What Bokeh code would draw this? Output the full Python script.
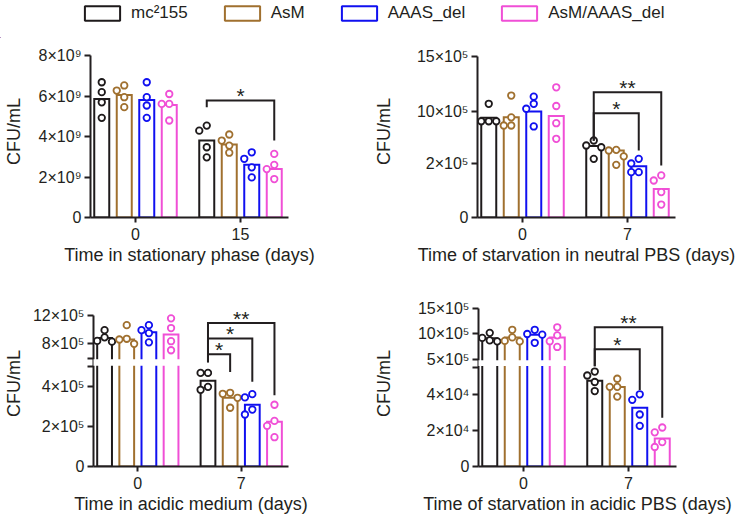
import numpy as np
from bokeh.plotting import figure
from bokeh.models import FixedTicker, BoxAnnotation, Legend, LegendItem, Range1d
from bokeh.layouts import column, row
from bokeh.embed import file_html
from bokeh.resources import INLINE
from bokeh.core.properties import value

# ---------------- data ----------------
SERIES = ["mc²155", "AsM", "AAAS_del", "AsM/AAAS_del"]
COLORS = ["#1e1a1b", "#a0702f", "#1010f0", "#f04fd6"]
INK = "#231f20"
FONT = "Liberation Sans"
YLABEL = "CFU/mL"

# Panel A - stationary phase
A_GROUPS = ["0", "15"]
A_XLABEL = "Time in stationary phase (days)"
A_MEAN_0 = [5.85e9, 6.05e9, 5.8e9, 5.55e9]
A_MEAN_1 = [3.8e9, 3.6e9, 2.6e9, 2.4e9]
A_PTS_0 = [[6.68e9, 6.19e9, 5.69e9, 4.92e9], [6.52e9, 6.27e9, 5.94e9, 5.45e9],
           [6.68e9, 5.94e9, 5.53e9, 4.92e9], [6.10e9, 5.61e9, 5.61e9, 4.79e9]]
A_PTS_1 = [[4.54e9, 4.29e9, 3.47e9, 2.97e9], [4.1e9, 3.8e9, 3.55e9, 3.2e9],
           [3.22e9, 2.9e9, 2.48e9, 1.98e9], [3.14e9, 2.6e9, 2.39e9, 1.9e9]]
A_TICKS = [0, 2e9, 4e9, 6e9, 8e9]
A_TICK_LABELS = ["0", "2×10⁹", "4×10⁹", "6×10⁹", "8×10⁹"]
A_BRACKETS = [(1, 3, 5.78e9, 3.8e9, "*")]
A_BRACKET_FOOT = 5.45e9

# Panel B - neutral PBS
B_GROUPS = ["0", "7"]
B_XLABEL = "Time of starvation in neutral PBS (days)"
B_MEAN_0 = [9.05e5, 9.1e5, 10.0e5, 9.3e5]
B_MEAN_1 = [4.7e5, 4.0e5, 1.9e5, 1.06e5]
B_PTS_0 = [[10.7e5, 8.5e5, 8.5e5, 8.5e5], [11.45e5, 9.1e5, 7.85e5, 7.85e5],
           [11.35e5, 10.7e5, 10.25e5, 7.7e5], [12.2e5, 10.5e5, 8.2e5, 5.8e5]]
B_PTS_1 = [[5.54e5, 4.77e5, 4.5e5, 2.72e5], [4.1e5, 4.0e5, 3.1e5, 1.95e5],
           [2.72e5, 2.0e5, 1.68e5, 1.68e5], [1.56e5, 1.37e5, 0.94e5, 0.48e5]]
B_TICKS = [0, 2e5, 10e5, 15e5]
B_TICK_LABELS = ["0", "2×10⁵", "10×10⁵", "15×10⁵"]
B_BRACKETS = [(1, 2, 9.74e5, 4.0e5, "*"), (1, 3, 11.75e5, 1.93e5, "**")]
B_BRACKET_FOOT = 5.5e5

# Panel C - acidic medium
C_GROUPS = ["0", "7"]
C_XLABEL = "Time in acidic medium (days)"
C_MEAN_0 = [8.8e5, 8.6e5, 9.6e5, 9.3e5]
C_MEAN_1 = [4.3e5, 3.45e5, 3.1e5, 2.25e5]
C_PTS_0 = [[9.9e5, 8.9e5, 8.4e5, 8.3e5], [10.6e5, 8.7e5, 8.6e5, 8.0e5],
           [10.6e5, 9.9e5, 9.5e5, 8.2e5], [11.55e5, 10.2e5, 8.36e5, 7.1e5]]
C_PTS_1 = [[4.7e5, 4.7e5, 4.0e5, 3.85e5], [3.7e5, 3.65e5, 3.45e5, 2.95e5],
           [3.63e5, 3.47e5, 2.86e5, 2.61e5], [3.1e5, 2.29e5, 2.04e5, 1.47e5]]
C_TICKS = [0, 2e5, 4e5, 5e5, 6e5, 8e5, 12e5]
C_TICK_LABELS = ["0", "2×10⁵", "4×10⁵", "", "", "8×10⁵", "12×10⁵"]
C_BRACKETS = [(1, 1, 6.55e5, 4.75e5, "*"), (1, 2, 8.73e5, 4.26e5, "*"),
              (1, 3, 10.91e5, 3.58e5, "**")]
C_BRACKET_FOOT = 5.52e5

# Panel D - acidic PBS
D_GROUPS = ["0", "7"]
D_XLABEL = "Time of starvation in acidic PBS (days)"
D_MEAN_0 = [9.15e5, 9.3e5, 9.8e5, 9.3e5]
D_MEAN_1 = [4.75e4, 4.4e4, 3.25e4, 1.55e4]
D_PTS_0 = [[10.2e5, 9.2e5, 8.7e5, 8.5e5], [10.8e5, 9.3e5, 8.6e5, 8.5e5],
           [10.8e5, 9.97e5, 9.84e5, 8.23e5], [11.3e5, 9.7e5, 8.54e5, 7.4e5]]
D_PTS_1 = [[5.26e4, 5.04e4, 4.68e4, 4.18e4], [4.86e4, 4.41e4, 4.41e4, 3.87e4],
           [4.0e4, 3.69e4, 2.88e4, 2.25e4], [2.16e4, 1.89e4, 1.35e4, 1.08e4]]
D_TICKS = [0, 2e4, 4e4, 5.5e4, 5e5, 10e5, 15e5]
D_TICK_LABELS = ["0", "2×10⁴", "4×10⁴", "", "5×10⁵", "10×10⁵", "15×10⁵"]
D_BRACKETS = [(1, 2, 6.93e5, 4.23e4, "*"), (1, 3, 11.32e5, 2.7e4, "**")]
D_BRACKET_FOOT = 1.0e5

# axis segments (value breakpoints -> pixel heights above the x axis)
A_SEG = ([0, 8e9], [0, 162])
B_SEG = ([0, 2e5, 10e5, 15e5], [0, 54, 106, 161])
C_SEG = ([0, 5e5, 6e5, 12e5], [0, 102, 111, 155])
D_SEG = ([0, 5.5e4, 5e5, 15e5], [0, 101.7, 110, 161.7])

# ---------------- layout constants ----------------
GROUP_PX = 105.0
FRAME_W = 198
X0 = -45 / GROUP_PX
X1 = X0 + FRAME_W / GROUP_PX
BAR_STEP = 22.5 / GROUP_PX
BAR_W = 15 / GROUP_PX
DOT = 6.5
DOT_STEP = 7.5
STAR_LIFT = 5


def swarm(ys):
    order = np.argsort(-np.asarray(ys), kind="stable")
    placed = []
    offs = [0.0] * len(ys)
    for i in order:
        chosen = 0.0
        for c in [0.0, -DOT_STEP, DOT_STEP, -2 * DOT_STEP, 2 * DOT_STEP]:
            if all((c - ox) ** 2 + (ys[i] - oy) ** 2 >= (DOT_STEP - 0.5) ** 2 for ox, oy in placed):
                chosen = c
                break
        offs[i] = chosen
        placed.append((chosen, ys[i]))
    return offs


def style_axis(ax):
    ax.axis_line_width = 2
    ax.axis_line_color = INK
    ax.major_tick_line_width = 2
    ax.major_tick_line_color = INK
    ax.minor_tick_line_color = None
    ax.major_tick_in = 0
    ax.major_label_text_font = FONT
    ax.major_label_text_font_size = "16px"
    ax.major_label_text_color = INK
    ax.axis_label_text_font = FONT
    ax.axis_label_text_font_size = "18px"
    ax.axis_label_text_font_style = "normal"
    ax.axis_label_text_color = INK


def make_panel(groups, xlabel, means, pts, ticks, tick_labels, seg, brackets, foot,
               frame_left, width, top_border, frame_h, bottom_border, ylab_standoff, gap):
    seg_v, seg_px = seg
    tr = lambda v: float(np.interp(v, seg_v, seg_px))
    p = figure(width=width, height=top_border + frame_h + bottom_border,
               x_range=Range1d(X0, X1), y_range=Range1d(0, frame_h),
               output_backend="svg", toolbar_location=None,
               min_border_left=frame_left, min_border_right=width - frame_left - FRAME_W,
               min_border_top=top_border, min_border_bottom=bottom_border)
    p.outline_line_color = None
    p.grid.visible = False
    for k in range(4):
        xs = [g + (k - 1.5) * BAR_STEP for g in range(len(groups))]
        tops = [tr(means[g][k]) for g in range(len(groups))]
        p.vbar(x=xs, top=tops, bottom=0, width=BAR_W, fill_color=None,
               line_color=COLORS[k], line_width=2, line_join="miter")
        px, py = [], []
        for g in range(len(groups)):
            ys = [tr(v) for v in pts[g][k]]
            offs = swarm(ys)
            px += [xs[g] + o / GROUP_PX for o in offs]
            py += ys
        p.scatter(px, py, marker="circle", size=DOT, line_width=1.8,
                  line_color=COLORS[k], fill_color="white")

    yax = p.yaxis[0]
    style_axis(yax)
    tpos = [tr(t) for t in ticks]
    yax.ticker = FixedTicker(ticks=tpos)
    yax.major_label_overrides = {tp: lab for tp, lab in zip(tpos, tick_labels)}
    yax.bounds = (0, max(tpos))
    yax.major_tick_out = 6
    yax.major_label_standoff = 3
    yax.axis_label = YLABEL
    yax.axis_label_standoff = ylab_standoff

    xax = p.xaxis[0]
    style_axis(xax)
    xax.ticker = FixedTicker(ticks=list(range(len(groups))))
    xax.major_label_overrides = {i: g for i, g in enumerate(groups)}
    xax.major_tick_out = 5
    xax.major_label_standoff = 5
    xax.axis_label = xlabel
    xax.axis_label_standoff = 2

    if gap:
        lo, hi = seg_px[1], seg_px[2]
        p.add_layout(BoxAnnotation(left=X0 - 4 / GROUP_PX, right=X1, bottom=lo + 1.2, top=hi - 1.2,
                                   fill_color="white", fill_alpha=1.0, line_color=None,
                                   level="annotation"))

    bx, by, tx, ty, tt = [], [], [], [], []
    for g, j, top, end, lab in brackets:
        xl = g + (0 - 1.5) * BAR_STEP
        xr = g + (j - 1.5) * BAR_STEP
        bx.append([xl, xl, xr, xr])
        by.append([tr(foot), tr(top), tr(top), tr(end)])
        tx.append((xl + xr) / 2)
        ty.append(tr(top) + STAR_LIFT)
        tt.append(lab)
    p.multi_line(bx, by, line_color=INK, line_width=2, line_join="miter", level="overlay")
    p.text(tx, ty, text=tt, text_font=value(FONT), text_font_size="21px",
           text_align="center", text_baseline="alphabetic", text_color=INK, level="overlay")
    return p


pA = make_panel(A_GROUPS, A_XLABEL, [A_MEAN_0, A_MEAN_1], [A_PTS_0, A_PTS_1],
                A_TICKS, A_TICK_LABELS, A_SEG, A_BRACKETS, A_BRACKET_FOOT,
                90, 368, 7, 172, 68, 12, False)
pB = make_panel(B_GROUPS, B_XLABEL, [B_MEAN_0, B_MEAN_1], [B_PTS_0, B_PTS_1],
                B_TICKS, B_TICK_LABELS, B_SEG, B_BRACKETS, B_BRACKET_FOOT,
                109, 368, 7, 172, 68, 20, False)
pC = make_panel(C_GROUPS, C_XLABEL, [C_MEAN_0, C_MEAN_1], [C_PTS_0, C_PTS_1],
                C_TICKS, C_TICK_LABELS, C_SEG, C_BRACKETS, C_BRACKET_FOOT,
                90, 368, 15, 170, 46, 6, True)
pD = make_panel(D_GROUPS, D_XLABEL, [D_MEAN_0, D_MEAN_1], [D_PTS_0, D_PTS_1],
                D_TICKS, D_TICK_LABELS, D_SEG, D_BRACKETS, D_BRACKET_FOOT,
                110, 368, 15, 170, 46, 21, True)

# legend strip
leg = figure(width=736, height=38, x_range=Range1d(0, 1), y_range=Range1d(0, 1),
             output_backend="svg", toolbar_location=None, min_border=0,
             x_axis_location=None, y_axis_location=None)
leg.outline_line_color = None
leg.grid.visible = False
items = []
for k in range(4):
    r = leg.vbar(x=[-5.0], top=[-5.0], bottom=-6.0, width=0.1, fill_color=None,
                 line_color=COLORS[k], line_width=2)
    items.append(LegendItem(label=SERIES[k], renderers=[r]))
L = Legend(items=items, orientation="horizontal", location=(80, 15),
           glyph_width=44, glyph_height=18, label_height=18, label_standoff=7, spacing=32,
           padding=0, margin=0, border_line_color=None, background_fill_alpha=0,
           label_text_font=FONT, label_text_font_size="17px", label_text_color=INK)
leg.add_layout(L)

layout = column(leg, row(pA, pB), row(pC, pD))
open("out.html", "w").write(file_html(layout, INLINE))
